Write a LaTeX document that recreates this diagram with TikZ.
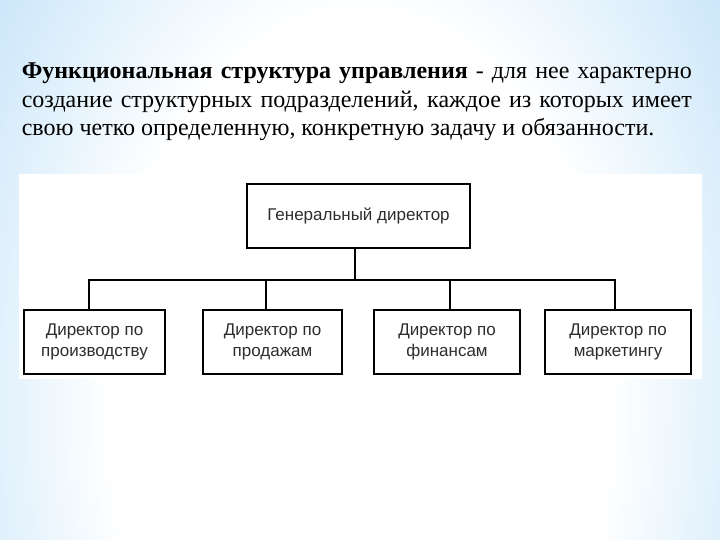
\documentclass[tikz,border=0pt]{standalone}
\usepackage{fontspec}
\setmainfont{Liberation Serif}
\newfontfamily\boxfont{Liberation Sans}
\definecolor{bgB}{RGB}{155,204,242}
\definecolor{bgT}{RGB}{198,228,249}
\definecolor{lbl}{RGB}{45,45,45}
\pgfdeclareradialshading{bgshade}{\pgfpoint{0bp}{0bp}}{color(0bp)=(white); color(16bp)=(white); color(30bp)=(bgT); color(42bp)=(bgB); color(50bp)=(bgB)}
\tikzset{
  orgbox/.style={draw=black, line width=2.4pt, fill=white, inner sep=2pt, align=center,
    font=\boxfont\fontsize{17}{21}\selectfont, text=lbl, minimum height=64pt},
  link/.style={line width=2.4pt, draw=black}
}
\begin{document}
\begin{tikzpicture}[x=1pt,y=-1pt]
\useasboundingbox (0,0) rectangle (720,540);
\begin{scope}
\clip (0,0) rectangle (720,540);
\shade[shading=bgshade] (-30,-200) rectangle (750,1000);
\end{scope}
\fill[white] (19,174) rectangle (702,379);
\node[anchor=north west, inner sep=0pt, text width=670pt, align=justify,
  font=\fontsize{24}{28.5}\selectfont] (head) at (21.6,63)
  {\textbf{Функциональная структура управления} - для нее характерно\linebreak создание структурных подразделений, каждое из которых имеет\linebreak свою четко определенную, конкретную задачу и обязанности.};
\node[orgbox, minimum width=223pt] (gd) at (358.5,216) {Генеральный директор};
\node[orgbox, minimum width=141pt] (d1) at (94.5,342) {Директор по\\производству};
\node[orgbox, minimum width=139pt] (d2) at (272.5,342) {Директор по\\продажам};
\node[orgbox, minimum width=146pt] (d3) at (447,342) {Директор по\\финансам};
\node[orgbox, minimum width=146pt] (d4) at (618,342) {Директор по\\маркетингу};
\coordinate (bus) at (355,280);
\draw[link] (gd.south -| bus) -- (bus);
\draw[link] ([xshift=-5.5pt]d1.north) |- (bus);
\draw[link] ([xshift=-3pt]d4.north) |- (bus);
\draw[link] ([xshift=-6.5pt]d2.north) -- ++(0,-30);
\draw[link] ([xshift=3pt]d3.north) -- ++(0,-30);
\end{tikzpicture}
\end{document}
